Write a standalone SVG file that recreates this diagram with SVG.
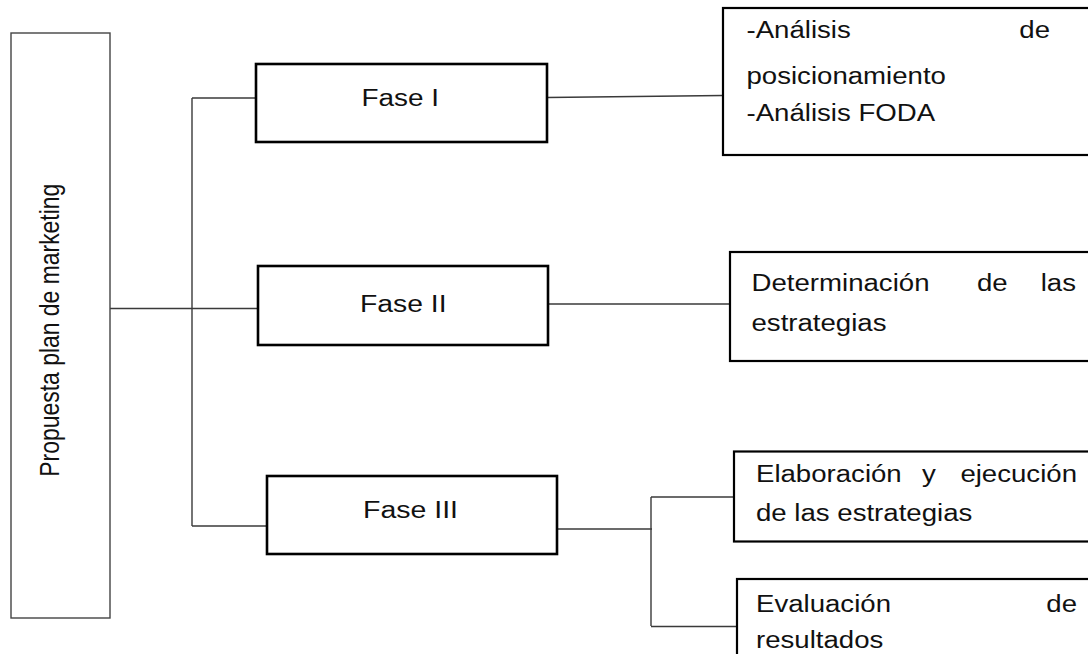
<svg xmlns="http://www.w3.org/2000/svg" width="1088" height="654" viewBox="0 0 1088 654">
<style>
.bg{fill:#ffffff}
.root{fill:#ffffff;stroke:#444444;stroke-width:1.4}
.phase{fill:#ffffff;stroke:#000000;stroke-width:2.6}
.item{fill:#ffffff;stroke:#000000;stroke-width:2.2}
.conn line{stroke:#3a3a3a;stroke-width:1.4;fill:none}
text{font-family:"Liberation Sans",Arial,sans-serif;font-size:23px;fill:#111111}
</style>
<rect class="bg" x="0" y="0" width="1088" height="654"/>
<g id="connectors" class="conn">
<line x1="110" y1="308.5" x2="258" y2="308.5"/>
<line x1="192" y1="98" x2="192" y2="526"/>
<line x1="192" y1="98" x2="256" y2="98"/>
<line x1="192" y1="526" x2="267" y2="526"/>
<line x1="547" y1="97.5" x2="723" y2="95.5"/>
<line x1="548" y1="304" x2="730" y2="304"/>
<line x1="557" y1="529" x2="652" y2="529"/>
<line x1="651" y1="497" x2="651" y2="626"/>
<line x1="651" y1="497" x2="734" y2="497"/>
<line x1="651" y1="626.5" x2="737" y2="626.5"/>
</g>
<g id="root">
<rect class="root" x="11" y="33" width="99" height="585"/>
<text transform="translate(58.5,476.7) scale(1.2,1) rotate(-90)" font-size="19.5" textLength="293" lengthAdjust="spacingAndGlyphs">Propuesta plan de marketing</text>
</g>
<g id="fase1">
<rect class="phase" x="256" y="64" width="291" height="78"/>
<text x="361.5" y="106" textLength="77.5" lengthAdjust="spacingAndGlyphs">Fase I</text>
</g>
<g id="fase2">
<rect class="phase" x="258" y="266" width="290" height="79"/>
<text x="360" y="312" textLength="86.5" lengthAdjust="spacingAndGlyphs">Fase II</text>
</g>
<g id="fase3">
<rect class="phase" x="267" y="476" width="290" height="78"/>
<text x="363" y="518" textLength="95" lengthAdjust="spacingAndGlyphs">Fase III</text>
</g>
<g id="item1">
<rect class="item" x="723" y="8" width="380" height="147"/>
<text x="746.5" y="38" textLength="104.3" lengthAdjust="spacingAndGlyphs">-Análisis</text>
<text x="1019.3" y="38" textLength="30.7" lengthAdjust="spacingAndGlyphs">de</text>
<text x="746.5" y="84" textLength="199.4" lengthAdjust="spacingAndGlyphs">posicionamiento</text>
<text x="746.5" y="121" textLength="188.6" lengthAdjust="spacingAndGlyphs">-Análisis FODA</text>
</g>
<g id="item2">
<rect class="item" x="730" y="252" width="370" height="109"/>
<text x="751.5" y="291" textLength="178" lengthAdjust="spacingAndGlyphs">Determinación</text>
<text x="977" y="291" textLength="30.7" lengthAdjust="spacingAndGlyphs">de</text>
<text x="1040.7" y="291" textLength="35.3" lengthAdjust="spacingAndGlyphs">las</text>
<text x="751.5" y="331" textLength="135" lengthAdjust="spacingAndGlyphs">estrategias</text>
</g>
<g id="item3">
<rect class="item" x="734" y="451.5" width="370" height="90"/>
<text x="756" y="482" textLength="145.7" lengthAdjust="spacingAndGlyphs">Elaboración</text>
<text x="922" y="482" textLength="13.8" lengthAdjust="spacingAndGlyphs">y</text>
<text x="960.4" y="482" textLength="116.6" lengthAdjust="spacingAndGlyphs">ejecución</text>
<text x="756" y="521" textLength="216.3" lengthAdjust="spacingAndGlyphs">de las estrategias</text>
</g>
<g id="item4">
<rect class="item" x="737" y="579" width="370" height="90"/>
<text x="756" y="612" textLength="135" lengthAdjust="spacingAndGlyphs">Evaluación</text>
<text x="1046.3" y="612" textLength="30.7" lengthAdjust="spacingAndGlyphs">de</text>
<text x="756" y="648" textLength="127.3" lengthAdjust="spacingAndGlyphs">resultados</text>
</g>
</svg>
